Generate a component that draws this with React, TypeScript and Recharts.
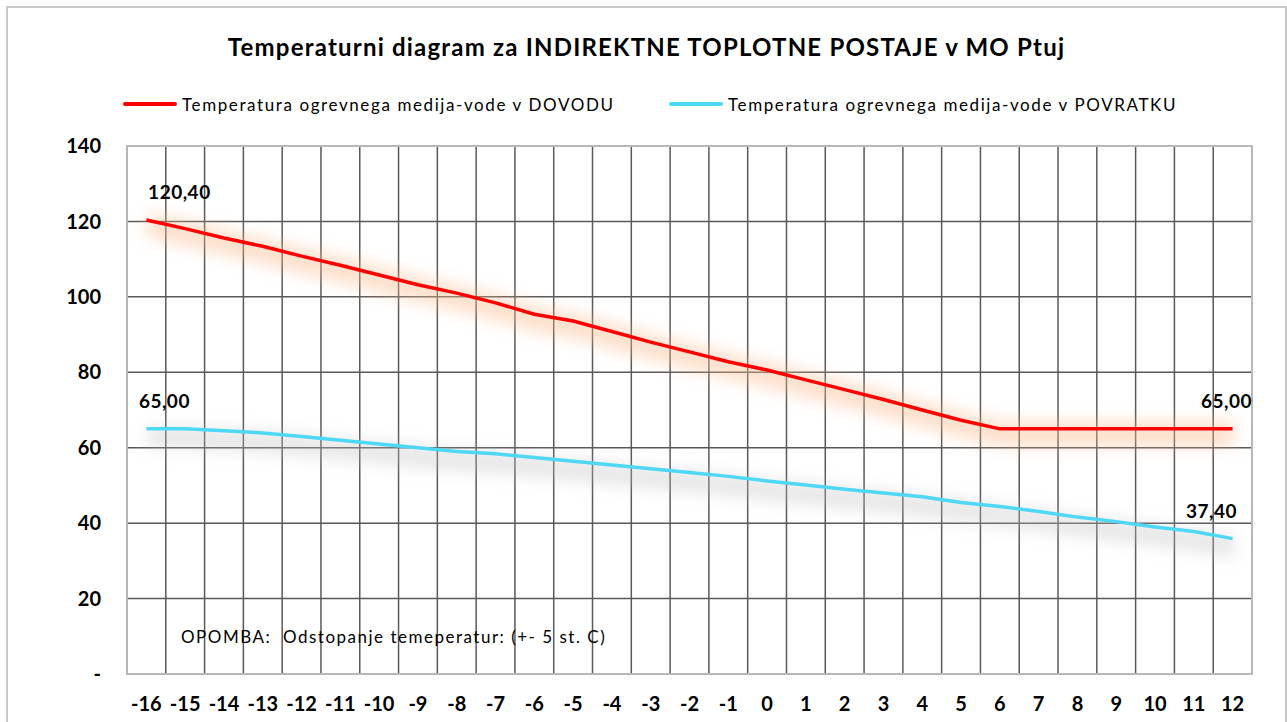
import {
  ComposedChart,
  Line,
  XAxis,
  YAxis,
  CartesianGrid,
  ReferenceArea,
  LabelList,
} from "recharts";

const outdoorTemps = [
  "-16", "-15", "-14", "-13", "-12", "-11", "-10", "-9", "-8", "-7", "-6", "-5", "-4", "-3", "-2",
  "-1", "0", "1", "2", "3", "4", "5", "6", "7", "8", "9", "10", "11", "12",
];
const supplyTemps = [
  120.4, 118.1, 115.6, 113.4, 110.8, 108.4, 105.8, 103.2, 101.0, 98.4, 95.4, 93.6, 90.8, 88.0, 85.4,
  82.8, 80.6, 78.0, 75.4, 72.8, 70.0, 67.3, 65.0, 65.0, 65.0, 65.0, 65.0, 65.0, 65.0,
];
const returnTemps = [
  65.0, 65.0, 64.5, 63.9, 63.0, 62.0, 61.0, 60.0, 59.0, 58.4, 57.4, 56.4, 55.4, 54.4, 53.4,
  52.4, 51.2, 50.1, 49.0, 48.0, 47.0, 45.5, 44.4, 43.1, 41.6, 40.4, 39.0, 37.8, 35.9,
];
const supplyLabels = ["120,40", ...Array(27).fill(""), "65,00"];
const returnLabels = ["65,00", ...Array(27).fill(""), "37,40"];
const yTicks = [0, 20, 40, 60, 80, 100, 120, 140];
const seriesNames = [
  "Temperatura ogrevnega medija-vode v DOVODU",
  "Temperatura ogrevnega medija-vode v POVRATKU",
];
const note = "OPOMBA:  Odstopanje temeperatur: (+- 5 st. C)";

const data = outdoorTemps.map((t, i) => ({
  t,
  supply: supplyTemps[i],
  ret: returnTemps[i],
}));

const FONT = "Lato, 'Open Sans', sans-serif";
const RED = "#ff0000";
const BLUE = "#4fd8f6";

function makeLabel(labels: string[], firstDx: number, lastDx: number) {
  return (props: any) => {
    const { x, y, index } = props;
    const text = labels[index];
    if (!text) return null;
    const dx = index === 0 ? firstDx : lastDx;
    return (
      <text
        x={x + dx}
        y={y - 28}
        textAnchor="middle"
        dominantBaseline="central"
        fontFamily={FONT}
        fontWeight={700}
        fontSize={19}
        letterSpacing={0.5}
        fill="#000"
      >
        {text}
      </text>
    );
  };
}

export default function App() {
  const n = outdoorTemps.length;
  const steps = yTicks.length - 1;
  return (
    <div style={{ position: "absolute", left: 6, top: 6, width: 1281, height: 716 }}>
      <div
        style={{
          position: "absolute",
          inset: 0,
          border: "2px solid #c9c9c9",
          borderBottom: "none",
          pointerEvents: "none",
        }}
      />
      <svg width={0} height={0} style={{ position: "absolute" }}>
        <defs>
          <filter id="redGlow" filterUnits="userSpaceOnUse" x={0} y={0} width={1300} height={800}>
            <feGaussianBlur stdDeviation={8} />
            <feOffset dx={2} dy={5} />
          </filter>
          <filter id="blueShadow" filterUnits="userSpaceOnUse" x={0} y={0} width={1300} height={800}>
            <feGaussianBlur stdDeviation={8} />
            <feOffset dx={2} dy={9} />
          </filter>
        </defs>
      </svg>

      <div
        style={{
          position: "absolute",
          top: 26,
          left: 2,
          width: 1277,
          textAlign: "center",
          fontFamily: FONT,
          fontSize: 24,
          fontWeight: 700,
          letterSpacing: 1.2,
          lineHeight: "30px",
        }}
      >
        Temperaturni diagram za INDIREKTNE TOPLOTNE POSTAJE v MO Ptuj
      </div>

      {seriesNames.map((name, i) => (
        <div
          key={name}
          style={{
            position: "absolute",
            top: 87,
            left: i === 0 ? 117 : 663,
            display: "flex",
            alignItems: "center",
            height: 22,
            fontFamily: FONT,
            fontSize: 17,
            letterSpacing: 1.6,
          }}
        >
          <span
            style={{
              display: "inline-block",
              width: 54,
              height: 4,
              borderRadius: 2,
              background: i === 0 ? RED : BLUE,
              marginRight: 5,
            }}
          />
          <span>{name}</span>
        </div>
      ))}

      <div style={{ position: "absolute", left: 2, top: 2 }}>
        <ComposedChart
          width={1270}
          height={712}
          data={data}
          margin={{ top: 138, right: 26, left: 0, bottom: 6 }}
        >
          <CartesianGrid
            stroke="#595959"
            strokeWidth={1.5}
            verticalCoordinatesGenerator={({ offset }: any) =>
              Array.from({ length: n - 1 }, (_, i) => offset.left + ((i + 1) * offset.width) / n)
            }
            horizontalCoordinatesGenerator={({ offset }: any) =>
              Array.from({ length: steps - 1 }, (_, i) => offset.top + ((i + 1) * offset.height) / steps)
            }
          />
          <ReferenceArea y1={0} y2={140} stroke="#b8b8b8" strokeWidth={2} fill="none" fillOpacity={0} />
          <XAxis
            dataKey="t"
            scale="band"
            axisLine={false}
            tickLine={false}
            tickSize={0}
            tickMargin={23}
            height={40}
            interval={0}
            tick={{ fontFamily: FONT, fontWeight: 700, fontSize: 20, fill: "#000" }}
          />
          <YAxis
            domain={[0, 140]}
            ticks={yTicks}
            width={119}
            axisLine={false}
            tickLine={false}
            tickSize={0}
            tickMargin={26}
            tickFormatter={(v: number) => (v === 0 ? "-" : String(v))}
            tick={{ fontFamily: FONT, fontWeight: 700, fontSize: 20, fill: "#000" }}
          />
          <Line
            dataKey="supply"
            stroke="#f9b98a"
            strokeOpacity={0.45}
            strokeWidth={24}
            filter="url(#redGlow)"
            dot={false}
            activeDot={false}
            legendType="none"
            isAnimationActive={false}
          />
          <Line
            dataKey="ret"
            stroke="#bdbdbd"
            strokeOpacity={0.4}
            strokeWidth={20}
            filter="url(#blueShadow)"
            dot={false}
            activeDot={false}
            legendType="none"
            isAnimationActive={false}
          />
          <Line
            dataKey="supply"
            name={seriesNames[0]}
            stroke={RED}
            strokeWidth={3.5}
            dot={false}
            activeDot={false}
            isAnimationActive={false}
          >
            <LabelList dataKey="supply" content={makeLabel(supplyLabels, 33, -6)} />
          </Line>
          <Line
            dataKey="ret"
            name={seriesNames[1]}
            stroke={BLUE}
            strokeWidth={3.5}
            dot={false}
            activeDot={false}
            isAnimationActive={false}
          >
            <LabelList dataKey="ret" content={makeLabel(returnLabels, 18, -21)} />
          </Line>
        </ComposedChart>
      </div>

      <div
        style={{
          position: "absolute",
          left: 175,
          top: 620,
          fontFamily: FONT,
          fontSize: 17,
          letterSpacing: 1.5,
          lineHeight: "22px",
          whiteSpace: "pre",
        }}
      >
        {note}
      </div>
    </div>
  );
}
